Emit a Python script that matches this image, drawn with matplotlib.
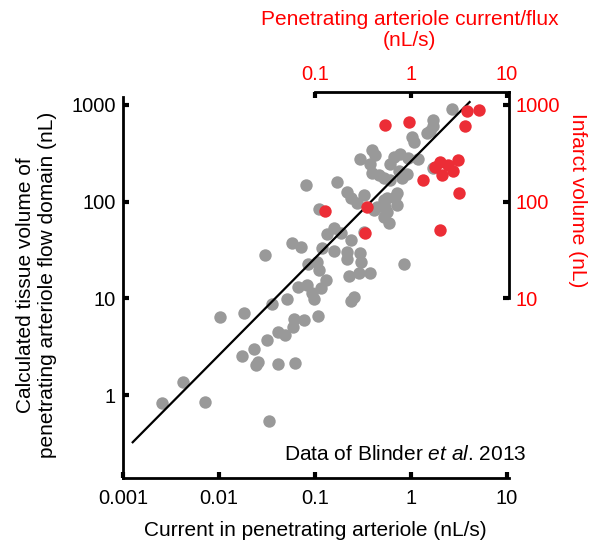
import numpy as np
import matplotlib
matplotlib.use("Agg")
import matplotlib.pyplot as plt

plt.rcParams['font.family'] = ['Liberation Sans', 'DejaVu Sans']
plt.rcParams['mathtext.fontset'] = 'custom'
plt.rcParams['mathtext.rm'] = 'Liberation Sans'
plt.rcParams['mathtext.it'] = 'Liberation Sans:italic'

# gray: penetrating arteriole current (nL/s) vs tissue volume (nL)
gray_x = [2.67, 1.72, 1.72, 1.59, 1.47, 1.03, 1.08, 0.394, 0.427, 0.298,
          0.379, 0.661, 0.776, 0.611, 0.94, 1.20, 0.462, 0.397, 0.521, 0.611,
          0.080, 0.168, 0.217, 0.235, 0.275, 0.323, 0.565, 0.445, 0.542, 0.110,
          0.758, 0.91, 0.809, 1.72, 0.521, 0.689, 0.717, 0.565, 0.521, 0.587,
          0.717, 0.410, 0.321, 0.0569, 0.0711, 0.0303, 0.132, 0.157, 0.185, 0.235,
          0.119, 0.157, 0.217, 0.217, 0.293, 0.303, 0.0854, 0.106, 0.110, 0.129,
          0.84, 0.225, 0.286, 0.372, 0.0656, 0.0834, 0.094, 0.115, 0.0977, 0.254,
          0.239, 0.0505, 0.0355, 0.0181, 0.0102, 0.108, 0.0605, 0.0758, 0.0582, 0.0407,
          0.0485, 0.0313, 0.0233, 0.0172, 0.0252, 0.0242, 0.0407, 0.0611, 0.0042, 0.0025,
          0.00703, 0.0328]
gray_y = [907, 698, 605, 537, 512, 466, 413, 342, 303, 276,
          245, 291, 311, 245, 282, 276, 188, 198, 175, 167,
          148, 161, 127, 108, 96, 117, 108, 89, 89, 83,
          207, 193, 175, 221, 104, 112, 92, 79, 70, 60,
          122, 82, 48.5, 37.6, 34.2, 28, 45.9, 53, 47.7, 40.1,
          32.9, 31.1, 30.1, 25.3, 29.2, 23.9, 22.6, 23.9, 19.6, 15.5,
          22.5, 17.0, 18.1, 18.1, 13.0, 13.7, 11.3, 12.7, 9.8, 10.4,
          9.4, 9.8, 8.7, 7.1, 6.45, 6.6, 6.07, 5.97, 5.08, 4.51,
          4.17, 3.70, 2.99, 2.55, 2.21, 2.04, 2.08, 2.16, 1.37, 0.84,
          0.85, 0.54]

# red: penetrating arteriole current/flux (nL/s) vs infarct volume (nL)
red_x = [0.127, 0.350, 0.336, 0.542, 0.946, 3.83, 5.13, 3.67, 1.35, 2.02,
         1.79, 2.10, 2.46, 2.78, 3.08, 3.20, 1.99]
red_y = [80.5, 88.6, 47, 620, 670, 865, 875, 598, 169, 259,
         230, 188, 239, 207, 269, 123, 50.9]

# fit line y = k * x
fit_k = 261
fit_x = [0.00125, 4.1]

bottom_ticks = [0.001, 0.01, 0.1, 1, 10]
bottom_labels = ['0.001', '0.01', '0.1', '1', '10']
left_ticks = [1, 10, 100, 1000]
left_labels = ['1', '10', '100', '1000']
top_ticks = [0.1, 1, 10]
top_labels = ['0.1', '1', '10']
right_ticks = [10, 100, 1000]
right_labels = ['10', '100', '1000']

gray = '#999999'
red = '#ec2d36'
txt_red = '#ff0000'
fs = 15
tfs = 14.5

fig = plt.figure(figsize=(5.95, 5.54), dpi=100)
ax = fig.add_axes([0.206, 0.137, 0.649, 0.697])
ax.set_xscale('log')
ax.set_yscale('log')
ax.set_xlim(0.00098, 10.5)
ax.set_ylim(0.139, 1360)

ax.scatter(gray_x, gray_y, s=80, color=gray, linewidths=0, zorder=2)
fx = np.array(fit_x)
ax.plot(fx, fit_k * fx, color='black', lw=1.6, zorder=3)
ax.scatter(red_x, red_y, s=80, color=red, linewidths=0, zorder=4)

for side in ['top', 'right']:
    ax.spines[side].set_visible(False)
for side in ['left', 'bottom']:
    ax.spines[side].set_linewidth(2)
ax.spines['left'].set_bounds(0.139, 1200)

ax.set_xticks(bottom_ticks)
ax.set_xticklabels(bottom_labels)
ax.set_yticks(left_ticks)
ax.set_yticklabels(left_labels)
ax.minorticks_off()
ax.tick_params(direction='in', length=4.5, width=3, labelsize=tfs)
ax.tick_params(axis='x', pad=8)
ax.tick_params(axis='y', pad=5)

ax.set_xlabel('Current in penetrating arteriole (nL/s)', fontsize=fs, labelpad=9)
ax.set_ylabel('Calculated tissue volume of\npenetrating arteriole flow domain (nL)',
              fontsize=fs, labelpad=10)

secx = ax.secondary_xaxis('top')
secx.set_xticks(top_ticks)
secx.set_xticklabels(top_labels)
secx.minorticks_off()
secx.spines['top'].set_bounds(0.1, 10.5)
secx.spines['top'].set_linewidth(2)
secx.tick_params(direction='in', length=4.5, width=3, labelsize=tfs,
                 labelcolor=txt_red, pad=6)
secx.set_xlabel('Penetrating arteriole current/flux\n(nL/s)', fontsize=fs,
                color=txt_red, va='center', linespacing=1.15)
secx.xaxis.set_label_coords(0.744, 1.16, transform=ax.transAxes)

secy = ax.secondary_yaxis('right')
secy.set_yticks(right_ticks)
secy.set_yticklabels(right_labels)
secy.minorticks_off()
secy.spines['right'].set_bounds(10, 1360)
secy.spines['right'].set_linewidth(2)
secy.tick_params(direction='in', length=4.5, width=3, labelsize=tfs,
                 labelcolor=txt_red, pad=5)
secy.set_ylabel('Infarct volume (nL)', fontsize=fs, color=txt_red,
                rotation=-90, va='center', ha='center')
secy.yaxis.set_label_coords(1.179, 0.72, transform=ax.transAxes)

ax.text(1.047, 0.06, r'Data of Blinder $\it{et\ al}$. 2013', transform=ax.transAxes,
        ha='right', va='center', fontsize=fs)

fig.savefig('out.png', dpi=100)
